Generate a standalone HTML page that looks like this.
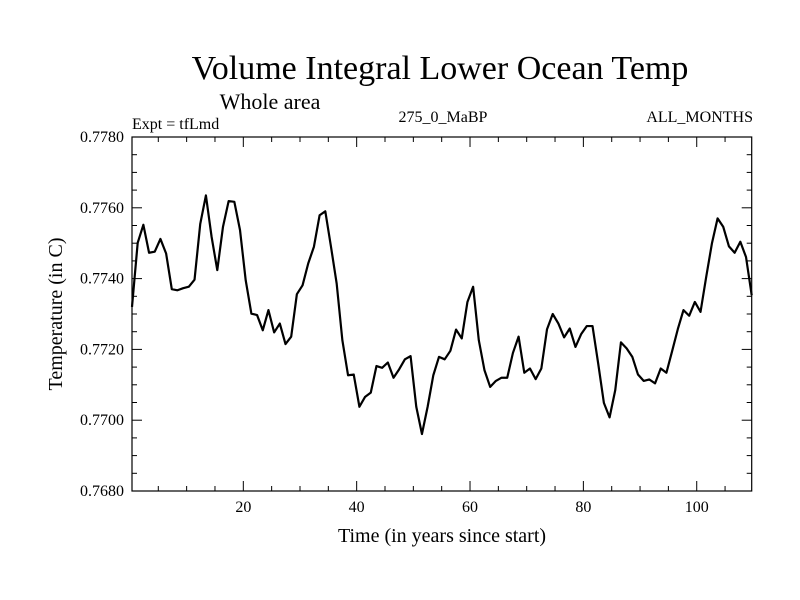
<!DOCTYPE html>
<html><head><meta charset="utf-8"><style>
body{margin:0;background:#fff;}
svg{display:block;font-family:"Liberation Serif",serif;}
</style></head><body>
<svg id="chart" width="800" height="600" viewBox="0 0 800 600">
<text x="440" y="79" font-size="34" text-anchor="middle">Volume Integral Lower Ocean Temp</text>
<text x="270" y="109" font-size="22" text-anchor="middle">Whole area</text>
<text x="132" y="129" font-size="16">Expt = tfLmd</text>
<text x="443" y="122" font-size="16" text-anchor="middle">275_0_MaBP</text>
<text x="753" y="122" font-size="16" text-anchor="end">ALL_MONTHS</text>
<text transform="translate(62,314) rotate(-90)" font-size="20" text-anchor="middle">Temperature (in C)</text>
<text x="442" y="542" font-size="20" text-anchor="middle">Time (in years since start)</text>
<g id="axes"></g>
<path id="line" fill="none" stroke="#000" stroke-width="2.2" stroke-linejoin="round"></path>
<rect x="132" y="137" width="619.7" height="354" fill="none" stroke="#000" stroke-width="1.2"></rect>
</svg>
<script>
const yTickValues = [0.768, 0.770, 0.772, 0.774, 0.776, 0.778];
const yTickLabels = ["0.7680", "0.7700", "0.7720", "0.7740", "0.7760", "0.7780"];
const xTickValues = [20, 40, 60, 80, 100];
const xTickLabels = ["20", "40", "60", "80", "100"];
const temps = [0.77320,0.77501,0.77552,0.77473,0.77476,0.77512,0.77471,0.77370,0.77367,0.77373,
0.77377,0.77397,0.77554,0.77635,0.77518,0.77424,0.77546,0.77619,0.77617,0.77537,
0.77395,0.77301,0.77297,0.77254,0.77311,0.77248,0.77273,0.77215,0.77236,0.77356,
0.77381,0.77443,0.77490,0.77579,0.77590,0.77490,0.77386,0.77226,0.77127,0.77129,
0.77038,0.77066,0.77078,0.77153,0.77148,0.77163,0.77120,0.77144,0.77172,0.77181,
0.77038,0.76961,0.77038,0.77127,0.77179,0.77172,0.77196,0.77256,0.77231,0.77334,
0.77377,0.77226,0.77141,0.77094,0.77111,0.77120,0.77120,0.77190,0.77236,0.77134,
0.77146,0.77116,0.77146,0.77257,0.77300,0.77273,0.77234,0.77259,0.77207,0.77243,
0.77266,0.77266,0.77160,0.77049,0.77008,0.77085,0.77220,0.77203,0.77179,0.77129,
0.77111,0.77115,0.77104,0.77146,0.77134,0.77195,0.77257,0.77311,0.77295,0.77334,
0.77306,0.77405,0.77499,0.77570,0.77546,0.77491,0.77473,0.77504,0.77461,0.77353];
const xMin = 0.36, xMax = 109.7, yMin = 0.768, yMax = 0.778;
const L = 132, R = 751.7, T = 137, B = 491;
const xs = v => L + (v - xMin) / (xMax - xMin) * (R - L);
const ys = v => B - (v - yMin) / (yMax - yMin) * (B - T);
const NS = "http://www.w3.org/2000/svg";
const axes = document.getElementById('axes');
function line(x1,y1,x2,y2,name){
  const l = document.createElementNS(NS,'line');
  l.setAttribute('x1',x1);l.setAttribute('y1',y1);l.setAttribute('x2',x2);l.setAttribute('y2',y2);
  l.setAttribute('stroke','#000');l.setAttribute('stroke-width','1');
  
  
  axes.appendChild(l);
}
function text(x,y,s,anchor,name){
  const t = document.createElementNS(NS,'text');
  t.setAttribute('x',x);t.setAttribute('y',y);t.setAttribute('font-size','16');t.setAttribute('text-anchor',anchor);
  t.textContent = s;
  
  
  axes.appendChild(t);
}
for (let v = 0.768; v <= 0.77801; v += 0.0005) {
  const y = ys(v);
  const major = Math.abs((v - 0.768) / 0.002 - Math.round((v - 0.768) / 0.002)) < 1e-6;
  const len = major ? 10 : 5;
  line(L, y, L + len, y, 'y-tick');
  line(R, y, R - len, y, 'y-tick-right');
}
yTickValues.forEach((v, i) => text(L - 8, ys(v) + 5, yTickLabels[i], 'end', 'y-tick-label'));
for (let v = 5; v < xMax; v += 5) {
  const x = xs(v);
  const len = v % 20 === 0 ? 10 : 5;
  line(x, B, x, B - len, 'x-tick');
  line(x, T, x, T + len, 'x-tick-top');
}
xTickValues.forEach((v, i) => text(xs(v), B + 21, xTickLabels[i], 'middle', 'x-tick-label'));
const step = (xMax - xMin) / (temps.length - 1);
let d = '';
temps.forEach((v, i) => { d += (i ? 'L' : 'M') + xs(xMin + i * step).toFixed(2) + ',' + ys(v).toFixed(2); });
document.getElementById('line').setAttribute('d', d);
</script>
</body></html>
